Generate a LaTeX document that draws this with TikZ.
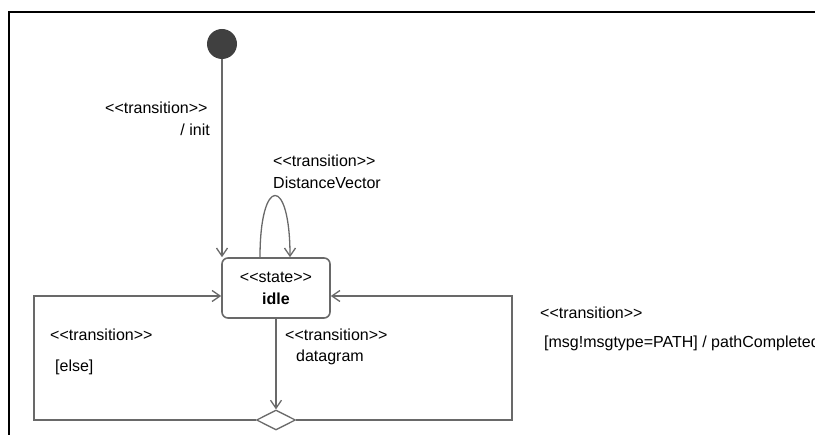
\documentclass[tikz,border=0pt]{standalone}
\usepackage{fontspec}
\setmainfont{Liberation Sans}
\usepackage{xcolor}
\usetikzlibrary{arrows.meta, shapes.geometric}

\definecolor{linegray}{RGB}{105,105,105}
\definecolor{dotgray}{RGB}{64,64,64}
\newcommand{\stereo}[1]{<{}<#1>{}>}

\begin{document}
\begin{tikzpicture}[x=1pt, y=-1pt,
    font=\fontsize{16}{18}\selectfont,
    initial/.style={circle, fill=dotgray, minimum size=30pt, inner sep=0pt},
    state/.style={draw=linegray, line width=1.6pt, rounded corners=6pt,
        minimum width=108pt, minimum height=60pt, align=center, inner sep=0pt},
    choice/.style={diamond, draw=linegray, line width=1.3pt, fill=white,
        minimum width=39pt, minimum height=20pt, inner sep=0pt},
    trans/.style={draw=linegray, line width=1.3pt,
        -{Straight Barb[length=8pt,width=11pt]}},
    lbl/.style={inner sep=0pt, anchor=west}]
\useasboundingbox (0,0) rectangle (815,435);
\clip (0,0) rectangle (815,435);

% frame
\draw[line width=2.5pt] (9,435) -- (9,12) -- (815,12);

\node[initial] (start) at (222,44) {};
\node[state] (idle) at (276,288) {\stereo{state}\\[4pt]\textbf{idle}};
\node[choice] (branch) at (276,420) {};

\coordinate (lc) at (34,420);
\coordinate (rc) at (512,420);

\draw[trans] (start) -- (start |- idle.north);
\draw[trans] ([xshift=-16pt]idle.north) .. controls +(0,-82) and +(0,-82) .. ([xshift=14pt]idle.north);
\draw[trans] (idle) -- (branch);
\draw[trans] (branch.west) -- (lc) |- ([yshift=-8pt]idle.west);
\draw[trans] (branch.east) -- (rc) |- ([yshift=-8pt]idle.east);

% labels
\node[lbl] (initst) at (105,108) {\stereo{transition}};
\node[lbl, anchor=east] (initact) at (210,130) {/ init};
\node[lbl] (dvst) at (273,161) {\stereo{transition}};
\node[lbl] (dvact) at (273,183) {DistanceVector};
\node[lbl] (elsest) at (50,335) {\stereo{transition}};
\node[lbl] (elseact) at (55,367) {[else]};
\node[lbl] (dgst) at (285,335) {\stereo{transition}};
\node[lbl] (dgact) at (296,357) {datagram};
\node[lbl] (pathst) at (540,313) {\stereo{transition}};
\node[lbl] (pathact) at (544,343) {[msg!msgtype=PATH] / pathCompleted};
\end{tikzpicture}
\end{document}
